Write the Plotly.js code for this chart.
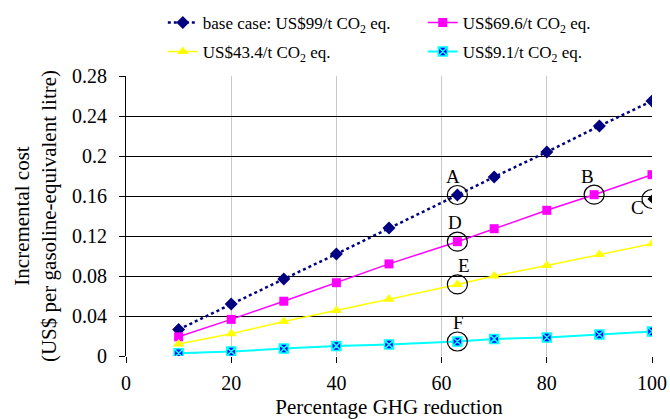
<!DOCTYPE html>
<html>
<head>
<meta charset="utf-8">
<script src="https://cdn.plot.ly/plotly-3.0.1.min.js"></script>
<style>html,body{margin:0;padding:0;background:#fff;}#chart{width:670px;height:419px;}</style>
</head>
<body>
<div id="chart"></div>
<script>
// ---- data ----
const baseX = [10, 20, 30, 40, 50, 63, 70, 80, 90, 100];
const baseY = [0.0265, 0.052, 0.077, 0.102, 0.128, 0.161, 0.179, 0.204, 0.230, 0.255];
const pinkX = [10, 20, 30, 40, 50, 63, 70, 80, 89, 100];
const pinkY = [0.0192, 0.0366, 0.0548, 0.0733, 0.0921, 0.1143, 0.1273, 0.1457, 0.1613, 0.1813];
const yellowX = [10, 20, 30, 40, 50, 63, 70, 80, 90, 100];
const yellowY = [0.0121, 0.0222, 0.0346, 0.0454, 0.0568, 0.0716, 0.080, 0.0904, 0.1015, 0.1123];
const cyanX = [10, 20, 30, 40, 50, 63, 70, 80, 90, 100];
const cyanY = [0.0027, 0.0044, 0.0074, 0.0101, 0.0114, 0.0145, 0.0171, 0.0185, 0.0215, 0.0245];
const pointCX = [100];
const pointCY = [0.157];
const seriesNames = [
  'base case: US$99/t CO<sub>2</sub> eq.',
  'US$69.6/t CO<sub>2</sub> eq.',
  'US$43.4/t CO<sub>2</sub> eq.',
  'US$9.1/t CO<sub>2</sub> eq.'
];
// labelled (circled) points: label, x, y, label offset
const markLabels = ['A', 'B', 'C', 'D', 'E', 'F'];
const markX = [baseX[5], pinkX[8], pointCX[0], pinkX[5], yellowX[5], cyanX[5]];
const markY = [baseY[5], pinkY[8], pointCY[0], pinkY[5], yellowY[5], cyanY[5]];
const labelDX = [-4, -7, -15, -2, 7, 1];
const labelDY = [19, 18, -8, 19, 19, 19];
const yTickVals = [0, 0.04, 0.08, 0.12, 0.16, 0.2, 0.24, 0.28];
const yTickText = ['0', '0.04', '0.08', '0.12', '0.16', '0.2', '0.24', '0.28'];
const xTickVals = [0, 20, 40, 60, 80, 100];

const FONT = 'Liberation Serif, Times New Roman, serif';

const traces = [
  {x: baseX, y: baseY, name: seriesNames[0], mode: 'lines+markers', legend: 'legend',
   line: {color: '#000080', width: 2.5, dash: 'dot'},
   marker: {symbol: 'diamond', size: 10, color: '#000080'}},
  {x: pinkX, y: pinkY, name: seriesNames[1], mode: 'lines+markers', legend: 'legend2',
   line: {color: '#ff00ff', width: 1.5},
   marker: {symbol: 'square', size: 9, color: '#ff00ff'}},
  {x: yellowX, y: yellowY, name: seriesNames[2], mode: 'lines+markers', legend: 'legend3',
   line: {color: '#ffff00', width: 1.5},
   marker: {symbol: 'triangle-up', size: 10, color: '#ffff00'}},
  {x: cyanX, y: cyanY, name: seriesNames[3], mode: 'lines+markers', legend: 'legend4',
   line: {color: '#00ffff', width: 2},
   marker: {symbol: 'square-x', size: 9, color: '#0000ff', line: {color: '#00ffff', width: 1.5}}},
  {x: pointCX, y: pointCY, mode: 'markers', showlegend: false,
   marker: {symbol: 'diamond', size: 7, color: '#000000'}}
];

const shapes = markX.map((x, i) => ({
  type: 'circle', xref: 'x', yref: 'y', xsizemode: 'pixel', ysizemode: 'pixel',
  xanchor: x, yanchor: markY[i], x0: -10, x1: 10, y0: -9.5, y1: 9.5,
  line: {color: '#000000', width: 1.2}
}));

const annotations = markLabels.map((t, i) => ({
  x: markX[i], y: markY[i], xref: 'x', yref: 'y', text: t, showarrow: false,
  xshift: labelDX[i], yshift: labelDY[i], font: {family: FONT, size: 19, color: '#000'}
}));

const legendCommon = {orientation: 'h', xanchor: 'left', yanchor: 'middle',
  xref: 'container', yref: 'container',
  font: {family: FONT, size: 17, color: '#000'}, bgcolor: 'rgba(0,0,0,0)'};

const layout = {
  width: 670, height: 419,
  margin: {l: 126, r: 18, t: 76, b: 63, autoexpand: false},
  paper_bgcolor: '#fff', plot_bgcolor: '#fff',
  font: {family: FONT, size: 20, color: '#000'},
  showlegend: true,
  legend: Object.assign({}, legendCommon, {x: 0.243, y: 0.945}),
  legend2: Object.assign({}, legendCommon, {x: 0.631, y: 0.945}),
  legend3: Object.assign({}, legendCommon, {x: 0.243, y: 0.876}),
  legend4: Object.assign({}, legendCommon, {x: 0.631, y: 0.876}),
  xaxis: {range: [0, 100], tickvals: xTickVals, showgrid: true, gridcolor: '#c8c8c8', gridwidth: 1,
          zeroline: false, showline: false, ticks: 'outside', ticklen: 6, tickcolor: '#000',
          ticklabelstandoff: 3,
          tickfont: {family: FONT, size: 20},
          title: {text: 'Percentage GHG reduction', font: {family: FONT, size: 21}}},
  yaxis: {range: [0, 0.28], tickvals: yTickVals, ticktext: yTickText, showgrid: true,
          gridcolor: '#000', gridwidth: 1, zeroline: false, showline: true, linecolor: '#000',
          ticks: 'outside', ticklen: 6, tickcolor: '#000', ticklabelstandoff: 8,
          tickfont: {family: FONT, size: 20}, automargin: true,
          title: {text: 'Incremental cost<br>(US$ per gasoline-equivalent litre)', standoff: 9,
                  font: {family: FONT, size: 21}}},
  shapes: shapes,
  annotations: annotations
};

Plotly.newPlot('chart', traces, layout, {displayModeBar: false, staticPlot: true});
</script>
</body>
</html>
